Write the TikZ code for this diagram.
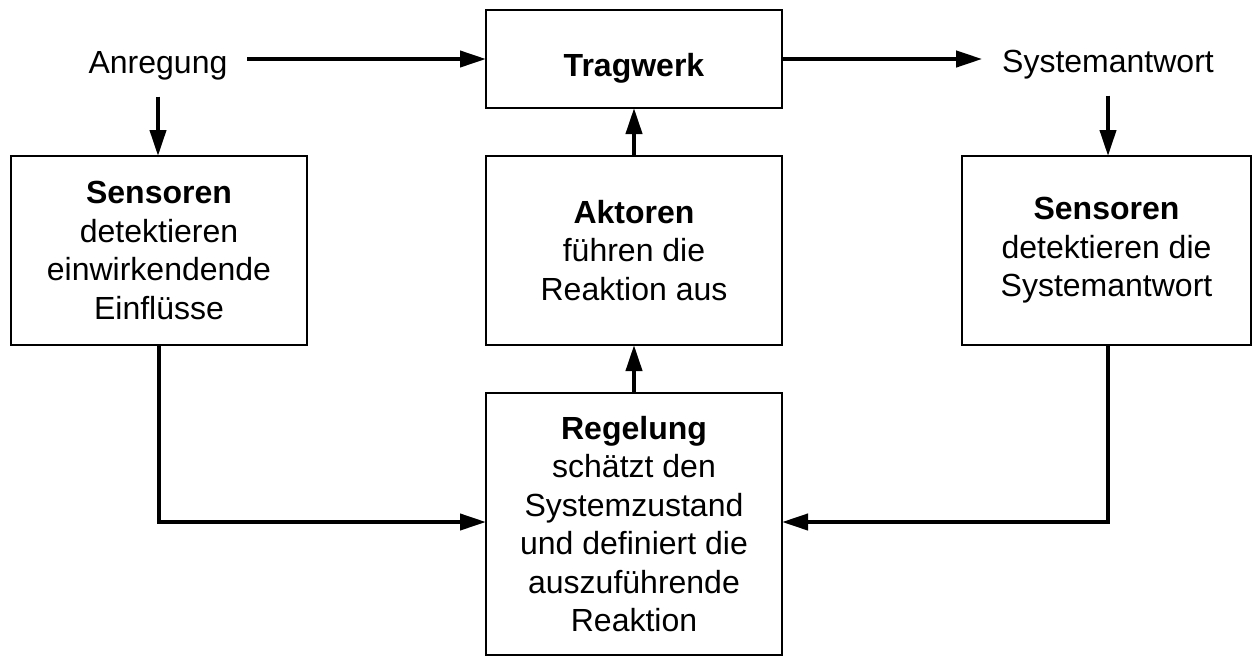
\documentclass[tikz,border=0pt]{standalone}
\usepackage{fontspec}
\setmainfont{Liberation Sans}
\usetikzlibrary{arrows.meta}
\begin{document}
\begin{tikzpicture}[x=1pt,y=-1pt,
  every node/.style={font=\fontsize{32pt}{38.4pt}\selectfont, outer sep=0pt},
  blockbox/.style={draw, line width=2.5pt, align=center, inner sep=0pt},
  freetext/.style={inner ysep=17pt, inner xsep=20pt, anchor=base},
  arr/.style={line width=4pt, -{Triangle[length=26pt,width=16pt]}}]
  \useasboundingbox (0,0) rectangle (1253,657);

  % blocks
  \node[blockbox, minimum width=296pt, minimum height=98pt,
        text height=40pt, text depth=6pt] (trag) at (634,59) {\textbf{Tragwerk}};
  \node[blockbox, minimum width=296pt, minimum height=189pt] (akt) at (634,250.5)
       {\textbf{Aktoren}\\führen die\\Reaktion aus};
  \node[blockbox, minimum width=296pt, minimum height=262pt] (reg) at (634,524)
       {\textbf{Regelung}\\schätzt den\\Systemzustand\\und definiert die\\auszuführende\\Reaktion};
  \node[blockbox, minimum width=296pt, minimum height=189pt] (sensl) at (159,250.5)
       {\textbf{Sensoren}\\detektieren\\einwirkendende\\Einflüsse};
  \node[blockbox, minimum width=289pt, minimum height=189pt] (sensr) at (1106.5,250.5)
       {\textbf{Sensoren}\\detektieren die\\Systemantwort};

  % free labels
  \node[freetext] (anr) at (158,73) {Anregung};
  \node[freetext] (sys) at (1108,72) {Systemantwort};

  % connectors
  \draw[arr] (anr.east |- trag.west) -- (trag.west);
  \draw[arr] (trag.east) -- (sys.west |- trag.east);
  \draw[arr] (anr.south) -- (anr.south |- sensl.north);
  \draw[arr] (sys.south) -- (sys.south |- sensr.north);
  \draw[arr] (akt.north) -- (trag.south);
  \draw[arr] (reg.north) -- (akt.south);
  \draw[arr] (sensl.south) |- ([yshift=2pt]reg.west);
  \draw[arr] (sensr.south -| sys.south) |- ([yshift=2pt]reg.east);
\end{tikzpicture}
\end{document}
